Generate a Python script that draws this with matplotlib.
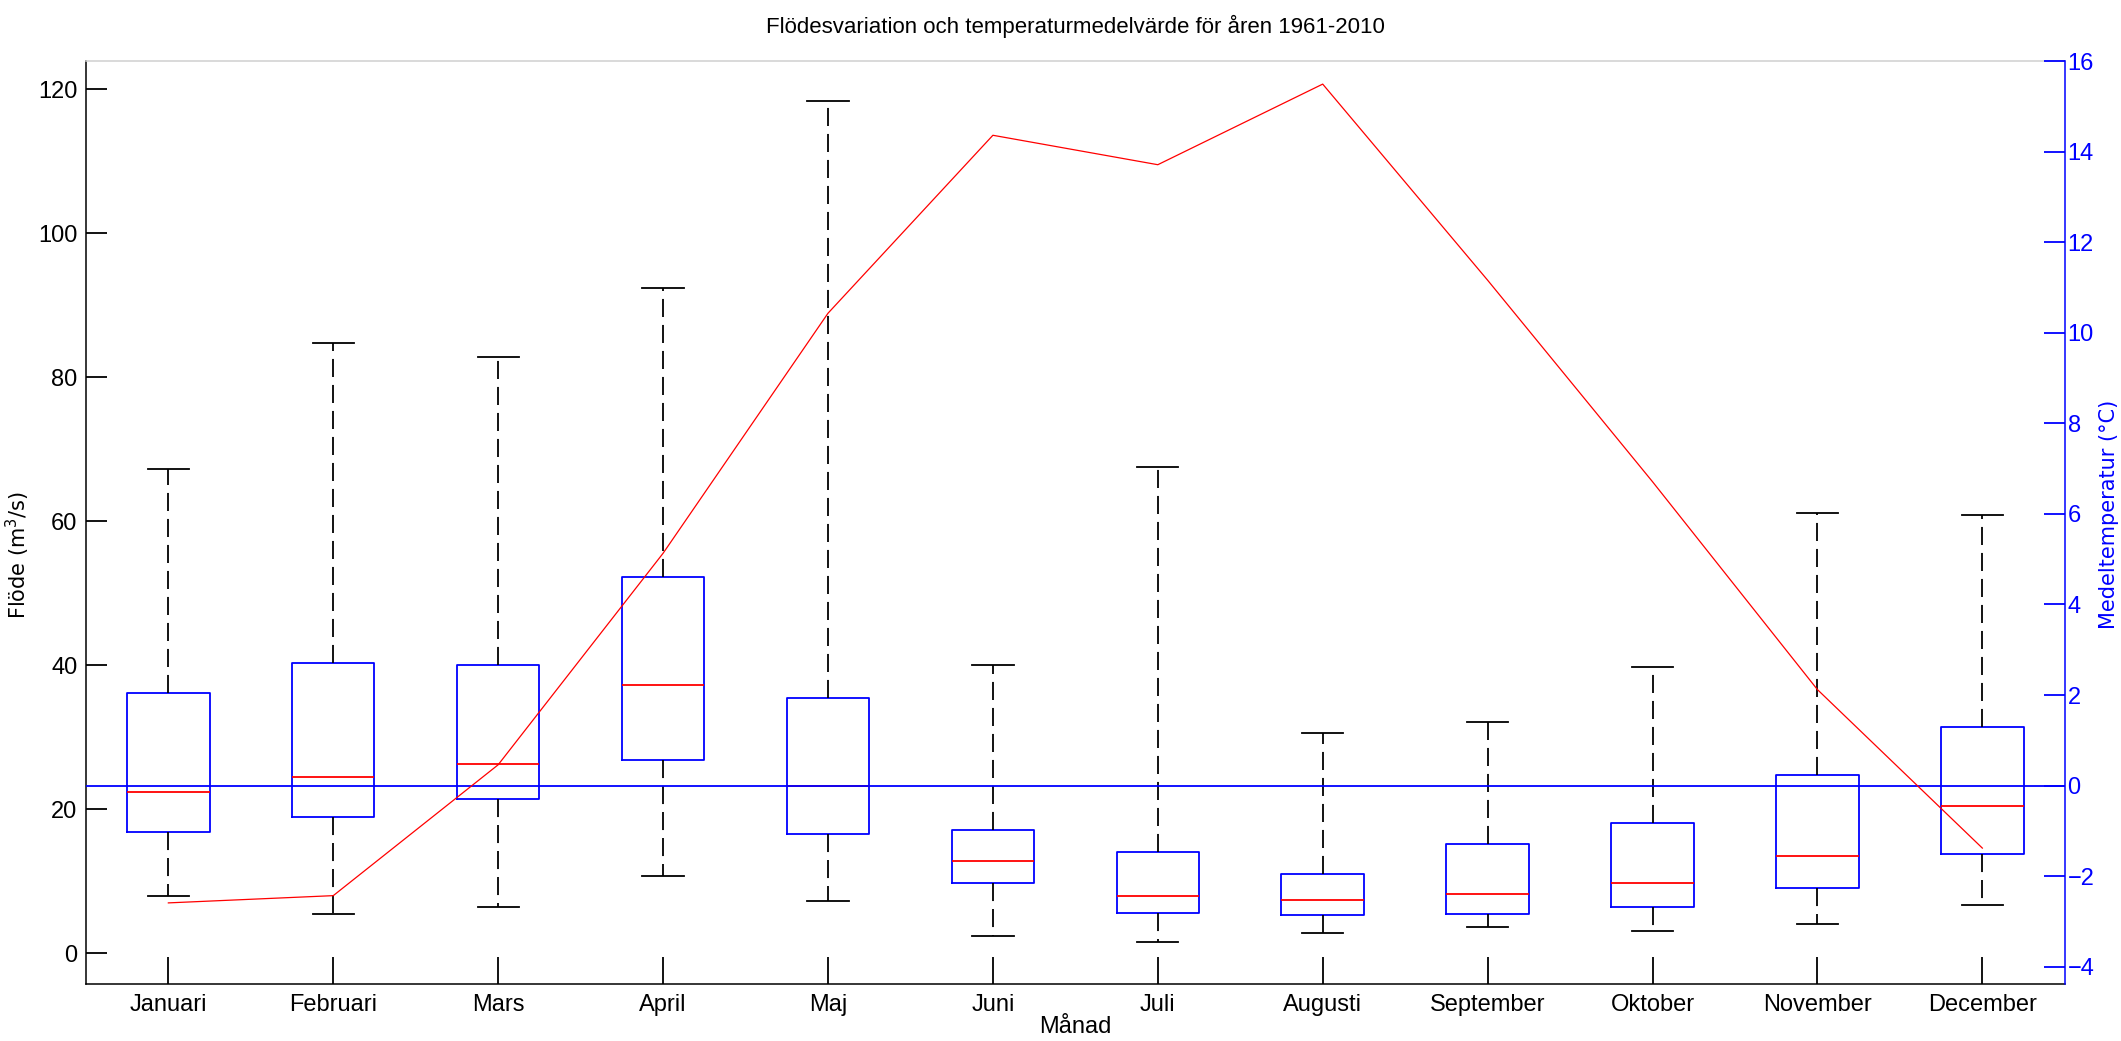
import matplotlib
matplotlib.use('Agg')
import matplotlib.pyplot as plt
from matplotlib import font_manager

months = ['Januari', 'Februari', 'Mars', 'April', 'Maj', 'Juni', 'Juli',
          'Augusti', 'September', 'Oktober', 'November', 'December']
flow_lo = [8.0, 5.4, 6.4, 10.7, 7.2, 2.36, 1.57, 2.8, 3.65, 3.1, 4.1, 6.7]
flow_q1 = [16.8, 18.9, 21.4, 26.8, 16.6, 9.7, 5.65, 5.37, 5.4, 6.4, 9.0, 13.8]
flow_med = [22.4, 24.5, 26.25, 37.2, 23.2, 12.8, 7.9, 7.45, 8.2, 9.7, 13.5, 20.5]
flow_q3 = [36.2, 40.3, 40.0, 52.2, 35.4, 17.1, 14.1, 11.0, 15.1, 18.1, 24.8, 31.4]
flow_hi = [67.2, 84.8, 82.8, 92.4, 118.4, 40.0, 67.5, 30.6, 32.1, 39.8, 61.2, 60.9]
temp = [-2.59, -2.43, 0.46, 5.13, 10.43, 14.36, 13.71, 15.49, 11.16, 6.71, 2.12, -1.38]

# condensed font if it exists, otherwise plain Liberation Sans
names = {f.name for f in font_manager.fontManager.ttflist}
narrow = 'Liberation Sans Narrow' if 'Liberation Sans Narrow' in names else 'Liberation Sans'
plt.rcParams['font.family'] = [narrow, 'DejaVu Sans']

fig = plt.figure(figsize=(21.21, 10.41), dpi=100)
ax1 = fig.add_axes([0.0405, 0.0548, 0.933, 0.8866])
ax2 = ax1.twinx()

pos = list(range(1, len(months) + 1))
stats = []
for i in range(len(months)):
    stats.append(dict(med=flow_med[i], q1=flow_q1[i], q3=flow_q3[i],
                      whislo=flow_lo[i], whishi=flow_hi[i], fliers=[]))

lw = 1.3
ax1.bxp(stats, positions=pos, widths=0.5, showfliers=False,
        boxprops=dict(color='blue', lw=lw),
        medianprops=dict(color='red', lw=lw),
        whiskerprops=dict(color='black', lw=lw, ls=(0, (10, 4.4))),
        capprops=dict(color='black', lw=lw))

ax1.set_xlim(0.5, 12.5)
ax1.set_ylim(-4.27, 123.9)
ax1.set_xticks(pos)
ax1.set_xticklabels(months, fontsize=17)
ax1.set_yticks([0, 20, 40, 60, 80, 100, 120])
ax1.tick_params(axis='y', direction='in', length=15, width=lw, labelsize=17, pad=6)
ax1.tick_params(axis='x', direction='in', length=19.5, width=lw, labelsize=17, pad=7)
ax1.spines['top'].set_color('#d0d0d0')
ax1.spines['right'].set_visible(False)
for s in ['left', 'bottom', 'top']:
    ax1.spines[s].set_linewidth(1.1)

ax1.set_title('Flödesvariation och temperaturmedelvärde för åren 1961-2010',
              fontsize=16, pad=20)
ax1.set_xlabel('Månad', fontsize=17, labelpad=0)
ax1.set_ylabel('Flöde (m$^3$/s)', fontsize=15, family='DejaVu Sans')
ax1.yaxis.set_label_coords(-0.0273, 0.465)

# temperatur på höger axel
ax2.axhline(0, color='blue', lw=lw)
ax2.plot(pos, temp, color='red', lw=0.9)
ax2.set_ylim(-4.38, 16)
ax2.set_yticks(range(-4, 17, 2))
ax2.tick_params(axis='y', direction='in', length=15, width=lw, labelsize=17,
                pad=2, colors='blue')
for s in ['left', 'bottom', 'top']:
    ax2.spines[s].set_visible(False)
ax2.spines['right'].set_color('blue')
ax2.spines['right'].set_linewidth(1.1)
ax2.set_ylabel('Medeltemperatur (°C)', fontsize=15, color='blue', family='DejaVu Sans')
ax2.yaxis.set_label_coords(1.0172, 0.509)

fig.savefig('out.png', dpi=100)
